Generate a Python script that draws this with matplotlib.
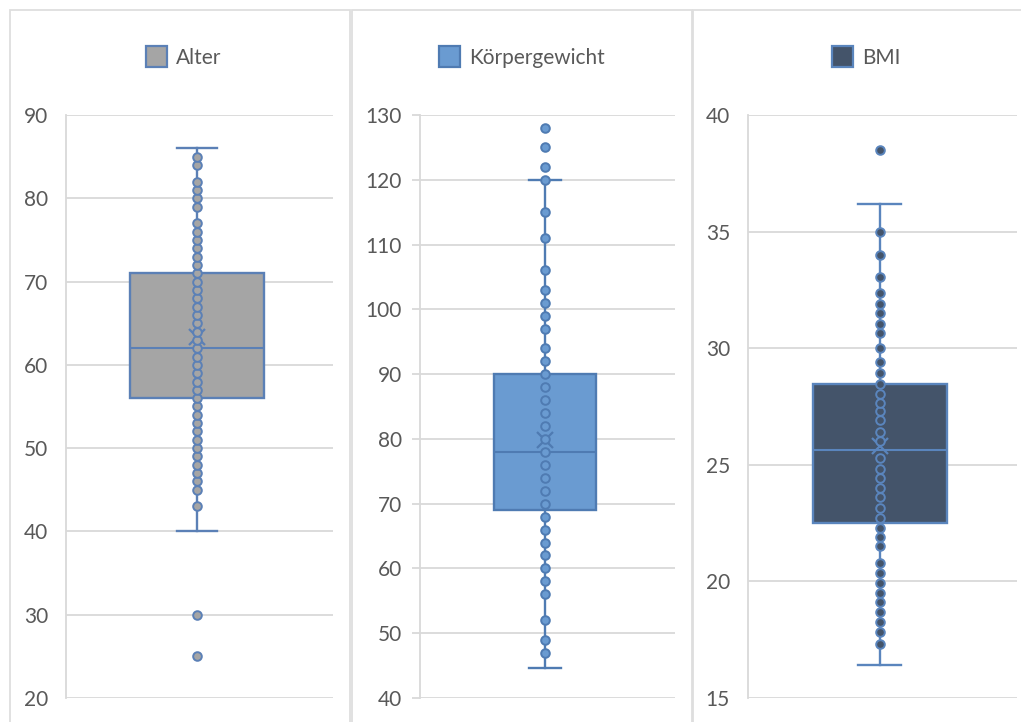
import numpy as np
import matplotlib.pyplot as plt
from matplotlib.patches import Rectangle

plt.rcParams['font.family'] = ['Lato', 'DejaVu Sans']

# --- data ---
titles = ["Alter", "Körpergewicht", "BMI"]

alter = [25, 30, 43] + list(range(45, 78)) + [79, 80, 81, 82, 84, 85]
gewicht = [47, 49, 52, 56, 58, 60, 62, 64, 66, 68, 70, 72, 74, 76, 78, 80, 82, 84,
           86, 88, 90, 92, 94, 97, 99, 101, 103, 106, 111, 115, 120, 122, 125, 128]
bmi = [17.3, 17.85, 18.25, 18.7, 19.1, 19.5, 19.95, 20.35, 20.8, 21.5, 21.9, 22.3,
       22.7, 23.15, 23.6, 24.0, 24.45, 24.8, 25.3, 26.0, 26.4, 26.9, 27.3, 27.65,
       28.05, 28.45, 28.95, 29.4, 30.0, 30.65, 31.05, 31.5, 31.9, 32.35, 33.05,
       34.0, 35.0, 38.5]

# box statistics as shown (whisker low, q1, median, q3, whisker high, mean)
whislo = [40, 44.6, 16.4]
q1 = [56, 69, 22.5]
med = [62, 78, 25.65]
q3 = [71, 90, 28.45]
whishi = [86, 120, 36.2]
means = [63.3, 79.8, 25.8]

ylims = [(20, 90), (40, 130), (15, 40)]
ysteps = [10, 10, 5]

fills = ["#a5a5a5", "#6a9bd1", "#44546a"]
edges = ["#5b80b6", "#4f7bb2", "#5a85bd"]
box_w = [0.5, 0.4, 0.5]
cap_w = [0.15, 0.125, 0.16]
tick_len = [0, 5.8, 0]

W, H = 1021, 722
fig = plt.figure(figsize=(W / 100, H / 100), dpi=100)

grid_c = "#d9d9d9"
text_c = "#595959"

# panel frames (pixels)
frames = [(10, 350), (352, 692), (693, 1030)]
for x0, x1 in frames:
    fig.patches.append(Rectangle((x0 / W, -0.05), (x1 - x0) / W, (H - 10) / H + 0.05,
                                 transform=fig.transFigure, fill=False,
                                 edgecolor="#dedede", linewidth=1.3))

axes_px = [(66, 267), (420, 255), (748, 269)]
legend_px = [146, 439, 832]

data = [alter, gewicht, bmi]
for i in range(3):
    left, width = axes_px[i]
    ax = fig.add_axes([left / W, 24 / H, width / W, 583 / H])
    stats = [dict(whislo=whislo[i], q1=q1[i], med=med[i], q3=q3[i],
                  whishi=whishi[i], mean=means[i], fliers=[])]
    ax.bxp(stats, positions=[0.99], widths=box_w[i], capwidths=cap_w[i],
           showmeans=True, patch_artist=True,
           boxprops=dict(facecolor=fills[i], edgecolor=edges[i], linewidth=1.7),
           medianprops=dict(color=edges[i], linewidth=1.5),
           whiskerprops=dict(color=edges[i], linewidth=1.7),
           capprops=dict(color=edges[i], linewidth=1.7),
           meanprops=dict(marker="x", markeredgecolor=edges[i], markersize=11,
                          markeredgewidth=1.6))
    pts = np.array(data[i], dtype=float)
    ax.plot(np.full_like(pts, 0.99), pts, linestyle="none", marker="o", markersize=6.2,
            markerfacecolor=fills[i], markeredgecolor=edges[i], markeredgewidth=1.4,
            zorder=4)

    lo, hi = ylims[i]
    ax.set_ylim(lo, hi)
    ax.set_xlim(0.5, 1.5)
    ax.set_yticks(np.arange(lo, hi + 0.1, ysteps[i]))
    ax.set_xticks([])
    ax.yaxis.grid(True, color=grid_c, linewidth=1.3)
    ax.set_axisbelow(True)
    for s in ["top", "right", "bottom"]:
        ax.spines[s].set_visible(False)
    ax.spines["left"].set_color(grid_c)
    ax.spines["left"].set_linewidth(1.3)
    ax.tick_params(axis="y", length=tick_len[i], color=grid_c, width=1.3,
                   pad=13 - tick_len[i], labelsize=15, labelcolor=text_c)

    # legend entry
    lx = legend_px[i]
    fig.patches.append(Rectangle((lx / W, (H - 67) / H), 21 / W, 21 / H,
                                 transform=fig.transFigure, facecolor=fills[i],
                                 edgecolor=edges[i], linewidth=1.6))
    fig.text((lx + 30) / W, (H - 58) / H, titles[i], fontsize=15,
             color=text_c, va="center", ha="left")

fig.savefig("out.png", dpi=100)
